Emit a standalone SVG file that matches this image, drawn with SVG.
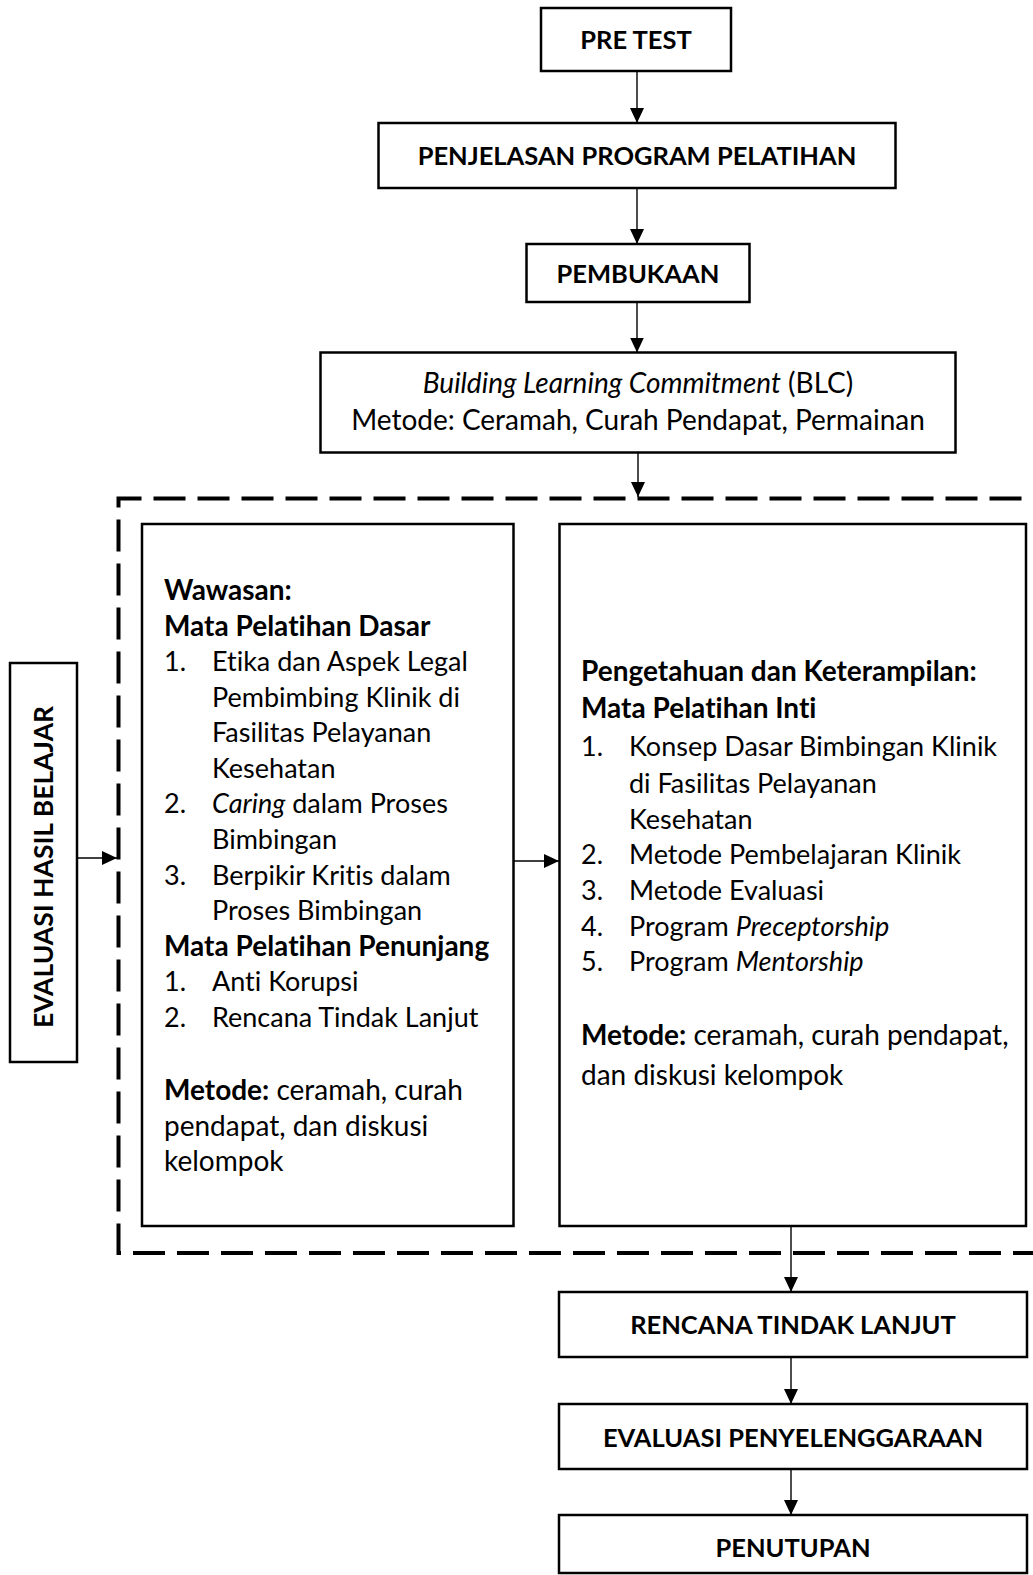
<svg xmlns="http://www.w3.org/2000/svg" width="1033" height="1575" viewBox="0 0 1033 1575">
<style>
.box{fill:#fff;stroke:#000;stroke-width:2.5}
.t{font-family:Lato,"Open Sans",sans-serif;font-size:27px;fill:#000;font-variant-ligatures:none;font-feature-settings:"liga" 0,"clig" 0}
.bl{font-size:28px}
.hd{font-size:28px}
.h{font-size:25.5px}
.b{font-weight:bold}
.c{text-anchor:middle}
.i{font-style:italic}
.conn{stroke:#000;stroke-width:1.4;fill:none}
.dash{stroke:#000;stroke-width:4;fill:none;stroke-dasharray:32 12}
</style>
<defs>
<marker id="ah" markerUnits="userSpaceOnUse" viewBox="0 0 15 14" markerWidth="15" markerHeight="14" refX="15" refY="7" orient="auto">
<path d="M0,0 L15,7 L0,14 z" fill="#000"/>
</marker>
</defs>
<rect width="1033" height="1575" fill="#fff"/>

<g id="dashed-group">
<path class="dash" d="M1045,1253 H118.5 V498.5 H1045"/>
</g>

<g id="pre-test">
<rect class="box" x="541" y="8" width="190" height="63"/>
<text class="t b c h" x="636" y="49">PRE TEST</text>
</g>

<g id="penjelasan">
<rect class="box" x="378.5" y="123" width="517" height="65"/>
<text class="t b c h" x="637" y="165">PENJELASAN PROGRAM PELATIHAN</text>
</g>

<g id="pembukaan">
<rect class="box" x="526.5" y="244" width="223" height="58"/>
<text class="t b c h" x="638" y="283">PEMBUKAAN</text>
</g>

<g id="blc">
<rect class="box" x="320.5" y="352.5" width="635" height="100"/>
<text class="t c bl" x="638" y="393"><tspan class="i">Building Learning Commitment</tspan> (BLC)</text>
<text class="t c bl" x="638" y="430">Metode: Ceramah, Curah Pendapat, Permainan</text>
</g>

<g id="evaluasi-hasil">
<rect class="box" x="10" y="663" width="67" height="399"/>
<text class="t b c" style="font-size:26.5px" transform="translate(53,867) rotate(-90)">EVALUASI HASIL BELAJAR</text>
</g>

<g id="wawasan">
<rect class="box" x="142" y="524" width="371.5" height="702"/>
<text class="t b hd" x="164" y="600">Wawasan:</text>
<text class="t b hd" x="164" y="635.5">Mata Pelatihan Dasar</text>
<text class="t" x="164" y="671">1.</text><text class="t" x="212" y="671">Etika dan Aspek Legal</text>
<text class="t" x="212" y="706.5">Pembimbing Klinik di</text>
<text class="t" x="212" y="742">Fasilitas Pelayanan</text>
<text class="t" x="212" y="777.5">Kesehatan</text>
<text class="t" x="164" y="813">2.</text><text class="t" x="212" y="813"><tspan class="i">Caring</tspan> dalam Proses</text>
<text class="t" x="212" y="848.5">Bimbingan</text>
<text class="t" x="164" y="884.5">3.</text><text class="t" x="212" y="884.5">Berpikir Kritis dalam</text>
<text class="t" x="212" y="920">Proses Bimbingan</text>
<text class="t b hd" x="164" y="955.5">Mata Pelatihan Penunjang</text>
<text class="t" x="164" y="991">1.</text><text class="t" x="212" y="991">Anti Korupsi</text>
<text class="t" x="164" y="1027">2.</text><text class="t" x="212" y="1027">Rencana Tindak Lanjut</text>
<text class="t hd" x="164" y="1100"><tspan class="b">Metode:</tspan> ceramah, curah</text>
<text class="t hd" x="164" y="1135.5">pendapat, dan diskusi</text>
<text class="t hd" x="164" y="1171">kelompok</text>
</g>

<g id="pengetahuan">
<rect class="box" x="559.5" y="524" width="466.5" height="702"/>
<text class="t b hd" x="581" y="681">Pengetahuan dan Keterampilan:</text>
<text class="t b hd" x="581" y="718">Mata Pelatihan Inti</text>
<text class="t" x="581" y="756">1.</text><text class="t" x="629" y="756">Konsep Dasar Bimbingan Klinik</text>
<text class="t" x="629" y="793">di Fasilitas Pelayanan</text>
<text class="t" x="629" y="829">Kesehatan</text>
<text class="t" x="581" y="864">2.</text><text class="t" x="629" y="864">Metode Pembelajaran Klinik</text>
<text class="t" x="581" y="900">3.</text><text class="t" x="629" y="900">Metode Evaluasi</text>
<text class="t" x="581" y="935.5">4.</text><text class="t" x="629" y="935.5">Program <tspan class="i">Preceptorship</tspan></text>
<text class="t" x="581" y="971">5.</text><text class="t" x="629" y="971">Program <tspan class="i">Mentorship</tspan></text>
<text class="t hd" x="581" y="1045"><tspan class="b">Metode:</tspan> ceramah, curah pendapat,</text>
<text class="t hd" x="581" y="1085">dan diskusi kelompok</text>
</g>

<g id="rencana-tindak-lanjut">
<rect class="box" x="559" y="1292" width="468" height="65"/>
<text class="t b c h" x="793" y="1334">RENCANA TINDAK LANJUT</text>
</g>

<g id="evaluasi-penyelenggaraan">
<rect class="box" x="559" y="1404" width="468" height="65"/>
<text class="t b c h" x="793" y="1447">EVALUASI PENYELENGGARAAN</text>
</g>

<g id="penutupan">
<rect class="box" x="559" y="1515" width="468" height="58"/>
<text class="t b c h" x="793" y="1557">PENUTUPAN</text>
</g>

<g id="connectors">
<path class="conn" d="M637,71 V123" marker-end="url(#ah)"/>
<path class="conn" d="M637,188 V244" marker-end="url(#ah)"/>
<path class="conn" d="M637,302 V352.5" marker-end="url(#ah)"/>
<path class="conn" d="M638,452.5 V497" marker-end="url(#ah)"/>
<path class="conn" d="M77,858 H117" marker-end="url(#ah)"/>
<path class="conn" d="M513.5,861 H559" marker-end="url(#ah)"/>
<path class="conn" d="M791,1226 V1292" marker-end="url(#ah)"/>
<path class="conn" d="M791,1357 V1404" marker-end="url(#ah)"/>
<path class="conn" d="M791,1469 V1515" marker-end="url(#ah)"/>
</g>
</svg>
